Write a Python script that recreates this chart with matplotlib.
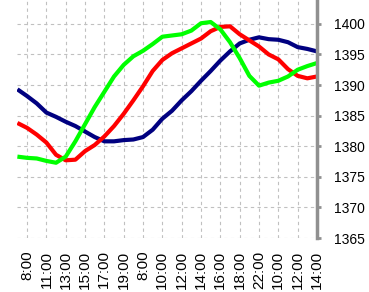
import numpy as np
import matplotlib.pyplot as plt

# DADOS
# rotulos do eixo x
labels = ['8:00', '11:00', '13:00', '15:00', '17:00', '19:00', '8:00', '10:00',
          '12:00', '14:00', '16:00', '18:00', '22:00', '10:00', '12:00', '14:00']

# posicoes das amostras (meio passo entre rotulos)
x = np.arange(-0.5, 15.01, 0.5)

azul = [1389.3, 1388.2, 1387.0, 1385.5, 1384.8, 1384.0, 1383.3, 1382.4, 1381.5, 1380.8,
        1380.8, 1381.0, 1381.1, 1381.5, 1382.7, 1384.5, 1385.8, 1387.5, 1389.0, 1390.7,
        1392.3, 1394.0, 1395.5, 1396.8, 1397.4, 1397.8, 1397.5, 1397.4, 1397.0, 1396.2,
        1395.9, 1395.5]
vermelho = [1383.8, 1383.0, 1381.9, 1380.6, 1378.6, 1377.7, 1377.8, 1379.2, 1380.2, 1381.6,
            1383.3, 1385.3, 1387.5, 1389.8, 1392.3, 1394.1, 1395.2, 1396.0, 1396.8, 1397.6,
            1398.8, 1399.5, 1399.6, 1398.3, 1397.3, 1396.3, 1395.0, 1394.2, 1392.6, 1391.5,
            1391.1, 1391.4]
verde = [1378.3, 1378.1, 1378.0, 1377.6, 1377.3, 1378.3, 1380.8, 1383.6, 1386.4, 1388.9,
         1391.4, 1393.3, 1394.7, 1395.6, 1396.7, 1397.9, 1398.1, 1398.3, 1398.9, 1400.1,
         1400.3, 1399.1, 1397.0, 1394.4, 1391.5, 1389.9, 1390.4, 1390.7, 1391.4, 1392.5,
         1393.1, 1393.6]

plt.rcParams['font.family'] = ['Liberation Sans', 'DejaVu Sans']

fig = plt.figure(figsize=(3.69, 2.92), dpi=100)
ax = fig.add_axes([17 / 369, 54 / 292, 300 / 369, 238 / 292])

ax.plot(x, azul, color='#000080', linewidth=3, solid_capstyle='butt')
ax.plot(x, vermelho, color='#ff0000', linewidth=3, solid_capstyle='butt')
ax.plot(x, verde, color='#00ff00', linewidth=3, solid_capstyle='butt')

ax.set_xlim(-0.52, 15)
ax.set_ylim(1365, 1403.9)
ax.set_xticks(np.arange(len(labels)))
ax.set_xticklabels(labels, rotation=90, fontsize=11)
ax.set_yticks(np.arange(1365, 1401, 5))
ax.yaxis.tick_right()
ax.tick_params(axis='y', labelsize=10, length=3, width=2, color='#909090', pad=9)
ax.tick_params(axis='x', length=0, pad=9)

for s in ['left', 'top', 'bottom']:
    ax.spines[s].set_visible(False)
ax.spines['right'].set_color('#909090')
ax.spines['right'].set_linewidth(2.5)

ax.grid(True, color='#c0c0c0', linestyle=(0, (3, 3)), linewidth=0.8)
ax.set_axisbelow(True)

fig.savefig('out.png', dpi=100)
